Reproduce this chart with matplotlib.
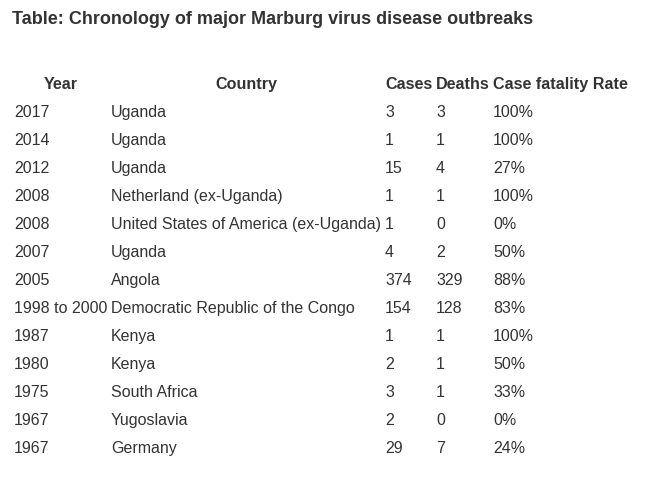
import matplotlib.pyplot as plt

# Table data
years = ["2017", "2014", "2012", "2008", "2008", "2007", "2005", "1998 to 2000",
         "1987", "1980", "1975", "1967", "1967"]
countries = ["Uganda", "Uganda", "Uganda", "Netherland (ex-Uganda)",
             "United States of America (ex-Uganda)", "Uganda", "Angola",
             "Democratic Republic of the Congo", "Kenya", "Kenya", "South Africa",
             "Yugoslavia", "Germany"]
cases = [3, 1, 15, 1, 1, 4, 374, 154, 1, 2, 3, 2, 29]
deaths = [3, 1, 4, 1, 0, 2, 329, 128, 1, 1, 1, 0, 7]
rates = ["100%", "100%", "27%", "100%", "0%", "50%", "88%", "83%",
         "100%", "50%", "33%", "0%", "24%"]
headers = ["Year", "Country", "Cases", "Deaths", "Case fatality Rate"]

W, H = 645, 493
fig = plt.figure(figsize=(W / 100, H / 100), dpi=100)
fig.patch.set_facecolor("white")
ax = fig.add_axes([0, 0, 1, 1])
ax.set_xlim(0, W)
ax.set_ylim(H, 0)
ax.axis("off")

plt.rcParams["font.family"] = ["Liberation Sans", "DejaVu Sans"]
color = "#333333"
body = 11.55
head = 11.6

ax.text(12, 24, "Table: Chronology of major Marburg virus disease outbreaks",
        fontsize=13.0, fontweight="bold", color=color, va="baseline", ha="left")

# header row
hy = 89
ax.text(61, hy, headers[0], fontsize=head, fontweight="bold", color=color, va="baseline", ha="center")
ax.text(246, hy, headers[1], fontsize=head, fontweight="bold", color=color, va="baseline", ha="center")
ax.text(385, hy, headers[2], fontsize=head, fontweight="bold", color=color, va="baseline", ha="left")
ax.text(436, hy, headers[3], fontsize=head, fontweight="bold", color=color, va="baseline", ha="left")
ax.text(493, hy, headers[4], fontsize=head, fontweight="bold", color=color, va="baseline", ha="left")

cols_x = [14, 111, 385, 436, 493]
for i in range(len(years)):
    y = 117 + i * 28
    row = [years[i], countries[i], str(cases[i]), str(deaths[i]), rates[i]]
    for x, val in zip(cols_x, row):
        ax.text(x, y, val, fontsize=body, color=color, va="baseline", ha="left")

fig.savefig("out.png", dpi=100)
